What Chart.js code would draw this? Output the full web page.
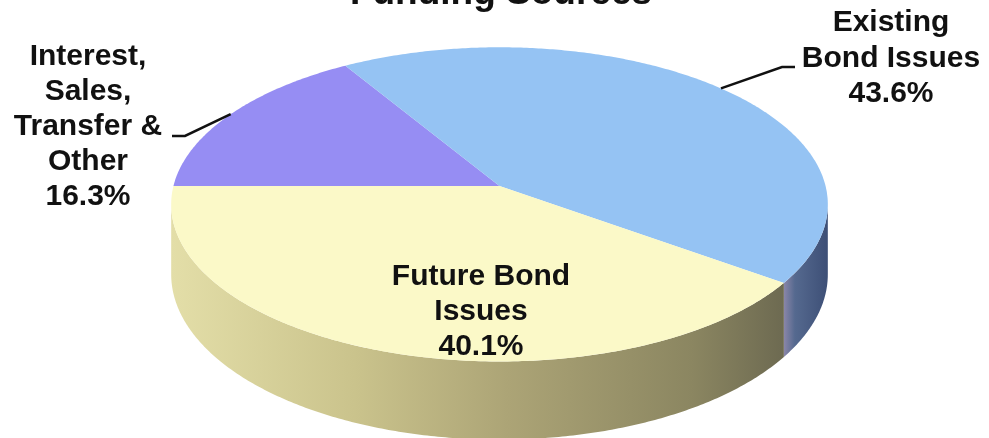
<!DOCTYPE html>
<html>
<head>
<meta charset="utf-8">
<title>Funding Sources</title>
<script src="https://cdn.jsdelivr.net/npm/chart.js@4.4.1/dist/chart.umd.min.js"></script>
<style>
  html, body { margin: 0; padding: 0; background: #fff; }
  #wrap { width: 989px; height: 438px; }
</style>
</head>
<body>
<div id="wrap"><canvas id="fundingChart" width="989" height="438"></canvas></div>
<script>
// Funding sources, share of total (%)
const sources = [
  ['Interest,', 'Sales,', 'Transfer &', 'Other'],
  ['Existing', 'Bond Issues'],
  ['Future Bond', 'Issues']
];
const shares = [16.3, 43.6, 40.1];

// top face colours, then side wall gradient stops
const topColors = ['#968df3', '#95c3f3', '#fbf9c8'];
const wallStops = [
  [[0, '#6e66b8'], [1, '#5a52a0']],
  [[0, '#8a86a8'], [0.25, '#55698f'], [1, '#3d4f76']],
  [[0, '#e3dea8'], [0.3, '#cac38c'], [0.55, '#aca476'], [0.85, '#8b8661'], [1, '#6d6a51']]
];

// 3D look of the pie, relative to the radius Chart.js gives the arcs
const SQUASH_X = 1.753;
const SQUASH_Y = 0.833;
const THICK = 0.371;
const TILT = 0.117;

const FONT = "'Liberation Sans', Arial, Helvetica, sans-serif";

// where each label goes; elbow = leader line bends, none for the inner label
const labelSpots = [
  { x: 88, y: 57, lineH: 35, elbow: [[185, 136], [172, 136]] },
  { x: 891, y: 23, lineH: 35.5, elbow: [[782, 67], [795, 67]] },
  { x: 481, y: 277, lineH: 35, elbow: null }
];

function project(arc, angle, r, depth) {
  const R = arc.outerRadius;
  const u = r * Math.cos(angle), v = r * Math.sin(angle);
  const d = 1 - TILT * v;
  return {
    x: arc.x + R * SQUASH_X * u / d,
    y: arc.y + (R * SQUASH_Y * v + depth * R * THICK) / d
  };
}

function rimPath(ctx, arc, a0, a1, depth, first) {
  const steps = Math.max(2, Math.ceil(Math.abs(a1 - a0) / 0.01));
  for (let s = 0; s <= steps; s++) {
    const p = project(arc, a0 + (a1 - a0) * s / steps, 1, depth);
    if (first && s === 0) ctx.moveTo(p.x, p.y); else ctx.lineTo(p.x, p.y);
  }
}

const pie3d = {
  id: 'pie3d',
  beforeDatasetsDraw(chart) {
    const ctx = chart.ctx;
    const arcs = chart.getDatasetMeta(0).data;
    const lo = Math.asin(TILT), hi = Math.PI - Math.asin(TILT);

    ctx.save();
    // outer walls, front half only
    arcs.forEach((arc, i) => {
      for (let k = -1; k <= 1; k++) {
        const a0 = Math.max(arc.startAngle, lo + k * 2 * Math.PI);
        const a1 = Math.min(arc.endAngle, hi + k * 2 * Math.PI);
        if (a1 <= a0) continue;
        const x0 = project(arc, a0, 1, 0).x, x1 = project(arc, a1, 1, 0).x;
        const g = ctx.createLinearGradient(Math.min(x0, x1), 0, Math.max(x0, x1), 0);
        wallStops[i].forEach(s => g.addColorStop(s[0], s[1]));
        ctx.beginPath();
        rimPath(ctx, arc, a0, a1, 0, true);
        rimPath(ctx, arc, a1, a0, 1, false);
        ctx.closePath();
        ctx.fillStyle = g;
        ctx.fill();
      }
    });

    // top faces
    arcs.forEach((arc, i) => {
      const c = project(arc, 0, 0, 0);
      ctx.beginPath();
      ctx.moveTo(c.x, c.y);
      rimPath(ctx, arc, arc.startAngle, arc.endAngle, 0, false);
      ctx.closePath();
      ctx.fillStyle = topColors[i];
      ctx.fill();
    });
    ctx.restore();
    return false;
  },
  afterDraw(chart) {
    const ctx = chart.ctx;
    const arcs = chart.getDatasetMeta(0).data;
    ctx.save();
    ctx.fillStyle = '#111';
    ctx.textAlign = 'center';

    // title, clipped by the top edge
    ctx.font = 'bold 37px ' + FONT;
    ctx.textBaseline = 'alphabetic';
    ctx.fillText('Funding Sources', 501, 4);

    ctx.textBaseline = 'middle';
    ctx.font = 'bold 30px ' + FONT;
    arcs.forEach((arc, i) => {
      const lines = sources[i].concat(shares[i].toFixed(1) + '%');
      const spot = labelSpots[i];
      if (spot.elbow) {
        const mid = (arc.startAngle + arc.endAngle) / 2;
        const p = project(arc, mid, 1, 0);
        ctx.beginPath();
        ctx.moveTo(p.x, p.y);
        spot.elbow.forEach(q => ctx.lineTo(q[0], q[1]));
        ctx.strokeStyle = '#111';
        ctx.lineWidth = 2.5;
        ctx.stroke();
      }
      lines.forEach((t, j) => ctx.fillText(t, spot.x, spot.y + j * spot.lineH));
    });
    ctx.restore();
  }
};

new Chart(document.getElementById('fundingChart'), {
  type: 'pie',
  data: {
    labels: sources,
    datasets: [{
      data: shares,
      backgroundColor: topColors,
      borderWidth: 0,
      hoverOffset: 0
    }]
  },
  options: {
    responsive: false,
    animation: false,
    rotation: 270,
    layout: { padding: { left: 10, right: 0, top: 0, bottom: 66 } },
    plugins: {
      legend: { display: false },
      tooltip: { enabled: false },
      title: { display: false }
    }
  },
  plugins: [pie3d]
});
</script>
</body>
</html>
